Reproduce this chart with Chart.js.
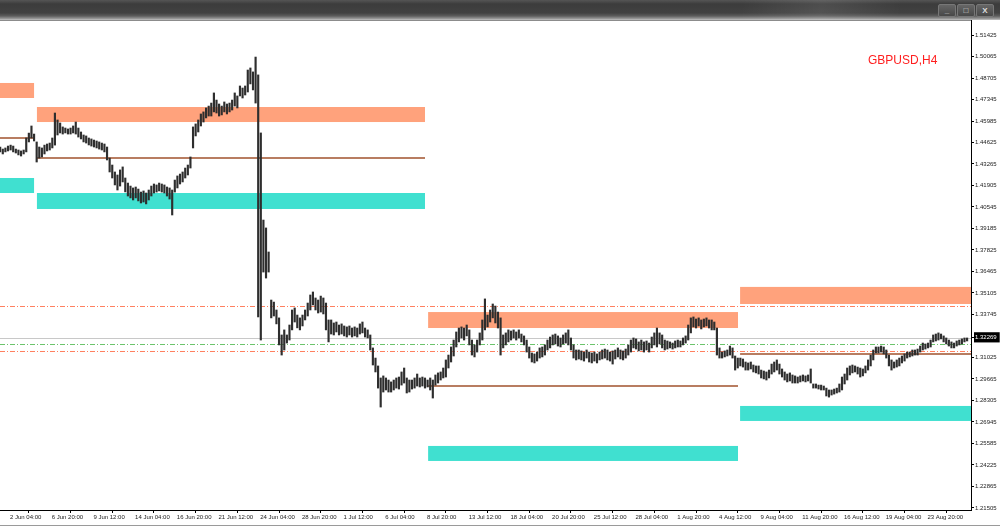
<!DOCTYPE html>
<html lang="en">
<head>
<meta charset="UTF-8">
<title>GBPUSD,H4</title>
<script src="https://cdn.jsdelivr.net/npm/chart.js"></script>
<style>
  html, body { margin: 0; padding: 0; width: 1000px; height: 527px; overflow: hidden; background: #fff; }
  #titlebar {
    position: absolute; left: 0; top: 0; width: 1000px; height: 20px;
    background:
      linear-gradient(100deg, rgba(255,255,255,0) 74%, rgba(255,255,255,0.09) 82%, rgba(255,255,255,0) 90%),
      linear-gradient(#555 0px, #3c3c3c 4px, #424242 13px, #5e5e5e 16px, #a0a0a0 19px, #c8c8c8 20px);
  }
  .btn {
    position: absolute; top: 4px; width: 16px; height: 11px;
    background: linear-gradient(#666, #484848); border: 1px solid #777; border-radius: 2px;
    color: #ddd; font: bold 8px "Liberation Sans", Arial, sans-serif; line-height: 11px; text-align: center;
  }
  #frame { position: absolute; left: 0; top: 20px; width: 971px; height: 1px; background: #8c8c8c; }
  #bottomline { position: absolute; left: 0; top: 525px; width: 1000px; height: 1px; background: #9a9a9a; }
  #wrap { position: absolute; left: 0; top: 20px; width: 1000px; height: 507px; }
  #symbol {
    position: absolute; left: 868px; top: 53px;
    font: 12px "Liberation Sans", Arial, sans-serif; color: #ff1f1f;
  }
</style>
</head>
<body>
<div id="titlebar">
  <div class="btn" style="left:938px">_</div>
  <div class="btn" style="left:957px">&#9633;</div>
  <div class="btn" style="left:976px">X</div>
</div>
<div id="wrap"><canvas id="chart" width="1000" height="507"></canvas></div>
<div id="frame"></div>
<div id="bottomline"></div>
<div id="symbol">GBPUSD,H4</div>

<script>
// H4 bars, prices in pips (1 pip = 0.0001)
const barHigh = [
  14434,14421,14428,14440,14446,14440,14421,14415,14409,14415,14491,14522,14567,14516,
  14466,14434,14428,14446,14453,14459,14491,14649,14605,14586,14561,14554,14548,14554,14567,14592,14554,14529,14510,14504,14491,14485,14478,14472,14466,14459,14453,
  14434,14364,14320,14276,14257,14289,14308,14238,14206,14187,14175,14181,14168,14149,14156,14143,14162,14187,14200,14194,14206,14200,14194,14181,14175,14162,14225,14251,14263,14276,14301,14320,14371,
  14561,14580,14605,14643,14656,14681,14693,14712,14776,14731,14706,14693,14719,14706,14712,14731,14776,14757,14820,14807,14820,14921,14934,14909,15003,
  14890,14523,13972,13922,13770,
  13466,13453,13403,13353,13245,13277,13245,13308,13403,13416,13371,13353,13371,13403,13447,13498,13517,13479,13466,13491,13479,13447,13340,13340,13321,13327,13308,13315,13302,13296,13302,13289,13296,13289,13315,13327,13289,13277,
  13245,13163,13099,13049,12973,12986,12973,12960,12948,12960,12973,12979,13011,13036,12973,12960,12960,12973,12998,12973,12979,12973,12960,12973,12960,12992,13005,13011,13036,
  13087,13118,13169,13213,13264,13289,13296,13289,13308,13277,13213,13182,13213,13258,13340,13473,13371,13403,13441,13428,13390,13353,13245,13258,13277,13270,13277,13264,13277,
  13251,13239,13213,13169,13131,13125,13137,13163,13169,13182,13213,13232,13245,13251,13239,13226,13245,13258,13277,13226,13182,13150,13150,13144,13137,13150,13137,13131,13137,13125,13137,13150,13156,13150,13137,13144,13150,13163,13150,13144,13156,
  13182,13213,13226,13220,13201,13213,13201,13207,13194,13232,13258,13289,13258,13245,13213,13207,13201,13194,13207,13213,13207,13226,13239,13308,13353,13359,13346,13353,13340,13346,13353,13340,13340,13327,
  13289,13163,13137,13144,13150,13175,13163,13112,13099,13099,13093,13074,13068,13074,13055,13049,13049,13023,13017,13011,13023,13061,13074,13087,13061,13030,13011,12998,13005,12992,12986,12979,12986,12992,12986,12992,13030,
  12935,12935,12928,12928,12922,12909,12897,12897,12903,12909,12935,12979,12998,13036,13049,13055,13049,13042,13036,13030,13049,13087,13118,13150,13169,13169,13175,13169,13150,
  13118,13087,13074,13087,13099,13112,13125,13137,13137,13150,13150,13156,13175,13194,13188,13194,13213,13245,13251,13258,13251,13239,13226,13213,13201,13194,13207,13213,13220,13226,13226
];
const barLow = [
  14403,14390,14403,14409,14415,14403,14396,14384,14377,14390,14403,14466,14491,14472,
  14339,14364,14371,14390,14409,14415,14428,14446,14510,14523,14516,14523,14516,14516,14523,14516,14497,14485,14466,14459,14447,14440,14434,14428,14421,14415,14403,
  14352,14276,14238,14194,14162,14187,14213,14150,14124,14112,14099,14112,14093,14080,14086,14074,14099,14124,14143,14149,14156,14149,14143,14124,14105,14004,14149,14175,14200,14213,14238,14257,14301,
  14428,14504,14529,14567,14592,14618,14630,14630,14656,14649,14630,14637,14656,14643,14656,14668,14693,14681,14757,14744,14763,14782,14833,14795,14712,
  13359,13213,13643,13605,13643,
  13353,13365,13315,13182,13118,13150,13194,13213,13277,13327,13290,13277,13302,13340,13365,13403,13435,13403,13384,13390,13378,13277,13201,13251,13245,13264,13245,13251,13239,13232,13245,13232,13239,13232,13251,13258,13232,13226,
  13150,13055,13011,12909,12789,12884,12897,12884,12884,12897,12909,12903,12928,12941,12878,12884,12903,12909,12922,12916,12922,12909,12916,12897,12846,12928,12941,12960,12973,
  12979,13036,13074,13112,13169,13201,13226,13213,13239,13182,13118,13106,13137,13182,13213,13277,13296,13327,13353,13321,13289,13118,13163,13182,13201,13213,13226,13213,13226,
  13201,13182,13137,13099,13074,13068,13080,13099,13106,13118,13150,13163,13182,13188,13175,13169,13188,13194,13182,13150,13099,13087,13093,13087,13080,13099,13074,13068,13080,13068,13087,13093,13099,13087,13080,13061,13093,13106,13093,13087,13099,
  13118,13137,13163,13156,13144,13150,13137,13150,13137,13163,13182,13169,13188,13163,13150,13156,13163,13156,13163,13169,13169,13182,13194,13213,13258,13296,13289,13302,13283,13296,13302,13289,13277,13277,
  13118,13099,13099,13106,13112,13118,13099,13023,13036,13049,13042,13023,13023,13030,13011,13005,12998,12973,12967,12960,12973,12998,13011,13023,12998,12979,12960,12948,12954,12941,12941,12941,12948,12954,12948,12954,12941,
  12909,12909,12903,12897,12897,12859,12852,12865,12871,12878,12884,12897,12935,12960,12992,13005,13011,12998,12979,12986,13005,13023,13049,13087,13131,13131,13137,13125,13099,
  13049,13023,13036,13042,13049,13068,13080,13099,13106,13112,13118,13118,13137,13150,13156,13163,13169,13201,13207,13213,13220,13201,13188,13175,13163,13163,13175,13182,13188,13201,13207
];

// time axis labels and the bar they sit on
const xTickBars = [3, 19, 35, 51, 67, 83, 99, 115, 131, 147, 163, 179, 195, 211, 227, 243, 259, 275, 291, 307, 323, 339, 355];
const xTickLabels = ['2 Jun 04:00', '6 Jun 20:00', '9 Jun 12:00', '14 Jun 04:00', '16 Jun 20:00', '21 Jun 12:00',
  '24 Jun 04:00', '28 Jun 20:00', '1 Jul 12:00', '6 Jul 04:00', '8 Jul 20:00', '13 Jul 12:00', '18 Jul 04:00',
  '20 Jul 20:00', '25 Jul 12:00', '28 Jul 04:00', '1 Aug 20:00', '4 Aug 12:00', '9 Aug 04:00', '11 Aug 20:00',
  '16 Aug 12:00', '19 Aug 04:00', '23 Aug 20:00'];

// price scale
const priceTicks = [1.51425, 1.50065, 1.48705, 1.47345, 1.45985, 1.44625, 1.43265, 1.41905, 1.40545, 1.39185,
  1.37825, 1.36465, 1.35105, 1.33745, 1.32269, 1.31025, 1.29665, 1.28305, 1.26945, 1.25585, 1.24225, 1.22865, 1.21505];
const lastPrice = 1.32269;

// zones per period: bar range, resistance box, support box, pivot line
const zoneFrom = [-1, 14.1, 164.2, 283.9];
const zoneTo = [13.0, 163.0, 283.1, 373];
const resistTop = [1.4839, 1.4687, 1.3390, 1.3549];
const resistBottom = [1.4744, 1.4592, 1.3289, 1.3441];
const supportTop = [1.4238, 1.4143, 1.2543, 1.2796];
const supportBottom = [1.4143, 1.4042, 1.2448, 1.2701];
const pivotLevel = [1.4491, 1.4365, 1.2922, 1.3125];

// full-width dash-dot levels
const dashLevels = [1.3428, 1.3188, 1.3144];
const dashColors = ['#ff8060', '#6cc46c', '#ff8060'];

const bars = barHigh.map((h, i) => ({ x: i, y: [barLow[i] / 10000, h / 10000] }));

const levelsPlugin = {
  id: 'levels',
  beforeDatasetsDraw(chart) {
    const { ctx, chartArea: a, scales: { x, y } } = chart;
    ctx.save();
    ctx.beginPath();
    ctx.rect(a.left, a.top, a.right - a.left, a.bottom - a.top);
    ctx.clip();

    zoneFrom.forEach((from, k) => {
      const x0 = x.getPixelForValue(from);
      const x1 = x.getPixelForValue(zoneTo[k]);
      let t = y.getPixelForValue(resistTop[k]);
      let b = y.getPixelForValue(resistBottom[k]);
      ctx.fillStyle = '#ffa27c';
      ctx.fillRect(x0, t, x1 - x0, b - t);
      t = y.getPixelForValue(supportTop[k]);
      b = y.getPixelForValue(supportBottom[k]);
      ctx.fillStyle = '#40e0d0';
      ctx.fillRect(x0, t, x1 - x0, b - t);
      const py = y.getPixelForValue(pivotLevel[k]);
      ctx.strokeStyle = '#a0522d';
      ctx.lineWidth = 1.5;
      ctx.beginPath();
      ctx.moveTo(x0, py);
      ctx.lineTo(x1, py);
      ctx.stroke();
    });

    // bid line
    const by = Math.round(y.getPixelForValue(lastPrice)) + 0.5;
    ctx.strokeStyle = '#c8c8c8';
    ctx.lineWidth = 1;
    ctx.beginPath();
    ctx.moveTo(a.left, by);
    ctx.lineTo(a.right, by);
    ctx.stroke();

    ctx.setLineDash([5, 2, 1, 2]);
    dashLevels.forEach((lv, k) => {
      const ly = Math.round(y.getPixelForValue(lv)) + 0.5;
      ctx.strokeStyle = dashColors[k];
      ctx.beginPath();
      ctx.moveTo(a.left, ly);
      ctx.lineTo(a.right, ly);
      ctx.stroke();
    });
    ctx.restore();
  }
};

const tickFont = { family: '"Liberation Sans", Arial, sans-serif', size: 6 };

new Chart(document.getElementById('chart').getContext('2d'), {
  type: 'bar',
  data: {
    datasets: [{
      data: bars,
      backgroundColor: '#2e2e2e',
      borderWidth: 0,
      barThickness: 1.5,
      grouped: false
    }]
  },
  options: {
    responsive: false,
    animation: false,
    devicePixelRatio: 1,
    layout: { padding: 0 },
    plugins: { legend: { display: false }, tooltip: { enabled: false } },
    scales: {
      x: {
        type: 'linear',
        offset: false,
        min: -0.07,
        max: 372.5,
        afterBuildTicks: axis => { axis.ticks = xTickBars.map(v => ({ value: v })); },
        afterFit: axis => { axis.height = 17; axis.paddingLeft = 0; axis.paddingRight = 0; },
        grid: { drawOnChartArea: false, drawTicks: true, tickLength: 3, color: '#000' },
        border: { display: true, color: '#000' },
        ticks: {
          autoSkip: false,
          maxRotation: 0,
          align: 'start',
          labelOffset: 2,
          padding: 1,
          color: '#222',
          font: tickFont,
          callback: (v, i) => xTickLabels[i]
        }
      },
      y: {
        position: 'right',
        min: 1.21378,
        max: 1.52374,
        afterBuildTicks: axis => { axis.ticks = priceTicks.map(v => ({ value: v })); },
        afterFit: axis => { axis.width = 29; axis.paddingTop = 0; axis.paddingBottom = 0; },
        grid: { drawOnChartArea: false, drawTicks: true, tickLength: 3, color: '#000' },
        border: { display: true, color: '#000' },
        ticks: {
          autoSkip: false,
          padding: 1,
          font: tickFont,
          showLabelBackdrop: true,
          backdropPadding: { top: 2, bottom: 1, left: 1, right: 3 },
          backdropColor: c => (c.tick && c.tick.value === lastPrice ? '#000' : 'rgba(0,0,0,0)'),
          color: c => (c.tick && c.tick.value === lastPrice ? '#fff' : '#222'),
          callback: v => v.toFixed(5)
        }
      }
    }
  },
  plugins: [levelsPlugin]
});
</script>
</body>
</html>
